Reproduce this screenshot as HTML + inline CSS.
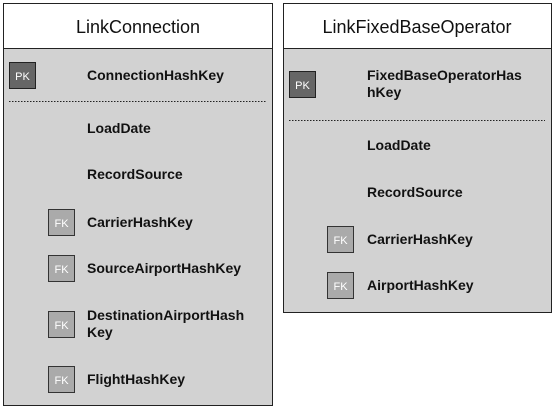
<!DOCTYPE html>
<html><head><style>body{margin:0;background:#fff}svg{display:block}</style></head><body>
<svg width="556" height="409" xmlns="http://www.w3.org/2000/svg" font-family="Liberation Sans, Arial, sans-serif">
<rect x="3.5" y="3.5" width="269" height="402" fill="#d2d2d2" stroke="#222"/>
<rect x="3.5" y="3.5" width="269" height="45" fill="#fff" stroke="#222"/>
<text x="138" y="33" font-size="18" text-anchor="middle" fill="#111">LinkConnection</text>
<rect x="9.5" y="62.5" width="26" height="26" fill="#666" stroke="#222"/>
<text x="22.5" y="80" font-size="11" fill="#fff" text-anchor="middle">PK</text>
<g font-size="14" font-weight="bold" fill="#111">
<text x="87" y="80">ConnectionHashKey</text>
<text x="87" y="133">LoadDate</text>
<text x="87" y="179">RecordSource</text>
<text x="87" y="227">CarrierHashKey</text>
<text x="87" y="273">SourceAirportHashKey</text>
<text x="87" y="320">DestinationAirportHash</text>
<text x="87" y="337">Key</text>
<text x="87" y="384">FlightHashKey</text>
</g>
<line x1="9" y1="101.5" x2="266" y2="101.5" stroke="#222" stroke-dasharray="1.5,1.5"/>
<g fill="#aaa" stroke="#333">
<rect x="48.5" y="209.5" width="26" height="26"/>
<rect x="48.5" y="255.5" width="26" height="26"/>
<rect x="48.5" y="311.5" width="26" height="26"/>
<rect x="48.5" y="366.5" width="26" height="26"/>
</g>
<g font-size="11" fill="#fff" text-anchor="middle">
<text x="61.5" y="227">FK</text><text x="61.5" y="273">FK</text><text x="61.5" y="329">FK</text><text x="61.5" y="384">FK</text>
</g>

<rect x="283.5" y="3.5" width="268" height="309" fill="#d2d2d2" stroke="#222"/>
<rect x="283.5" y="3.5" width="268" height="45" fill="#fff" stroke="#222"/>
<text x="417" y="33" font-size="18" text-anchor="middle" fill="#111">LinkFixedBaseOperator</text>
<rect x="289.5" y="71.5" width="26" height="26" fill="#666" stroke="#222"/>
<text x="302.5" y="89" font-size="11" fill="#fff" text-anchor="middle">PK</text>
<g font-size="14" font-weight="bold" fill="#111">
<text x="367" y="80">FixedBaseOperatorHas</text>
<text x="367" y="97">hKey</text>
<text x="367" y="150">LoadDate</text>
<text x="367" y="197">RecordSource</text>
<text x="367" y="244">CarrierHashKey</text>
<text x="367" y="290">AirportHashKey</text>
</g>
<line x1="289" y1="120.5" x2="545" y2="120.5" stroke="#222" stroke-dasharray="1.5,1.5"/>
<g fill="#aaa" stroke="#333">
<rect x="327.5" y="226.5" width="26" height="26"/>
<rect x="327.5" y="272.5" width="26" height="26"/>
</g>
<g font-size="11" fill="#fff" text-anchor="middle">
<text x="340.5" y="244">FK</text><text x="340.5" y="290">FK</text>
</g>
</svg>
</body></html>
